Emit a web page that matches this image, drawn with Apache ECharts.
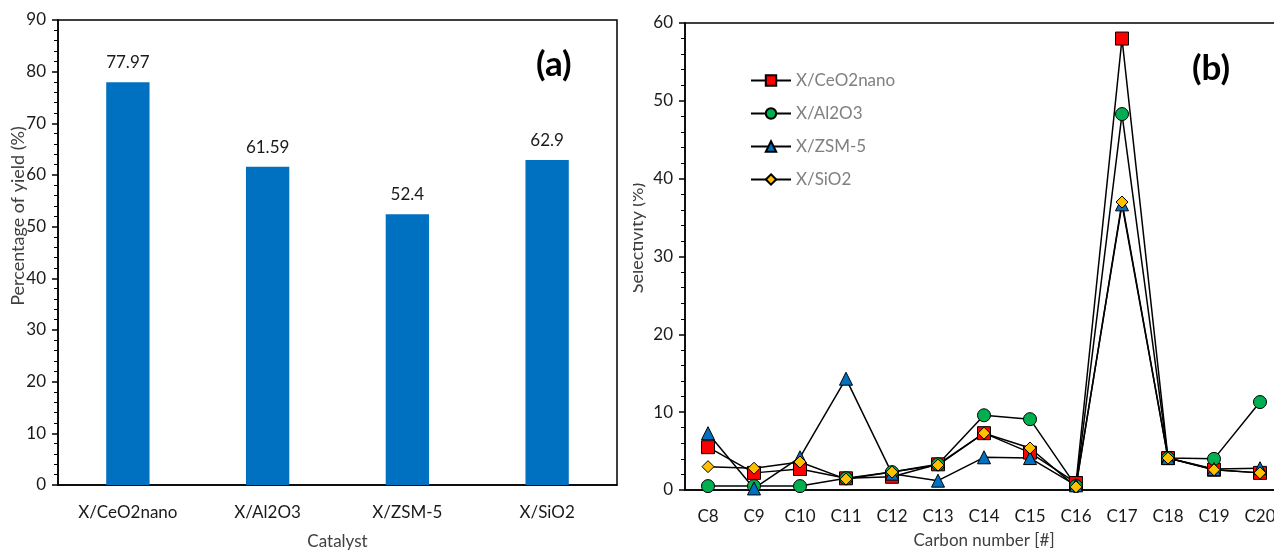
<!DOCTYPE html>
<html>
<head>
<meta charset="utf-8">
<script src="https://cdn.jsdelivr.net/npm/echarts@6/dist/echarts.min.js"></script>
<style>
  html, body { margin: 0; padding: 0; background: #fff; }
  #main { width: 1274px; height: 552px; }
</style>
</head>
<body>
<div id="main"></div>
<script>
// panel (a)
var catalysts = ['X/CeO2nano', 'X/Al2O3', 'X/ZSM-5', 'X/SiO2'];
var yieldValues = [77.97, 61.59, 52.4, 62.9];

// panel (b)
var carbons = ['C8', 'C9', 'C10', 'C11', 'C12', 'C13', 'C14', 'C15', 'C16', 'C17', 'C18', 'C19', 'C20'];
var ceo2nano = [5.5, 2.2, 2.7, 1.5, 1.7, 3.3, 7.3, 4.8, 0.9, 58.0, 4.1, 2.6, 2.2];
var al2o3 = [0.5, 0.5, 0.5, 1.5, 2.3, 3.3, 9.6, 9.1, 0.5, 48.3, 4.1, 4.0, 11.3];
var zsm5 = [7.3, 0.2, 4.2, 14.3, 2.1, 1.2, 4.2, 4.1, 0.6, 36.7, 4.1, 2.7, 2.8];
var sio2 = [3.0, 2.8, 3.6, 1.4, 2.3, 3.2, 7.3, 5.4, 0.4, 37.0, 4.1, 2.6, 2.2];

var font = 'Lato';
var labelColor = '#1a1a1a';
var nameColor = '#404040';
var axisLine = { lineStyle: { color: '#000', width: 1.5 } };

var chart = echarts.init(document.getElementById('main'));

function lineSeries(name, data, symbol, size, color) {
  return {
    name: name,
    type: 'line',
    xAxisIndex: 2,
    yAxisIndex: 1,
    data: data,
    symbol: symbol,
    symbolSize: size,
    lineStyle: { color: '#000', width: 1.5 },
    itemStyle: { color: color, borderColor: '#000', borderWidth: 1 },
    emphasis: { disabled: true }
  };
}

var option = {
  animation: false,
  textStyle: { fontFamily: font },
  grid: [
    { left: 58, right: 657, top: 20, bottom: 67, outerBoundsMode: 'none', show: true, borderColor: '#000', borderWidth: 1.5 },
    // the (b) frame runs past the right edge of the picture
    { left: 685, width: 598, top: 23, bottom: 62, outerBoundsMode: 'none', show: true, borderColor: '#000', borderWidth: 1.5 }
  ],
  legend: {
    orient: 'vertical',
    left: 750,
    top: 72,
    padding: 0,
    itemWidth: 40,
    itemHeight: 13,
    itemGap: 16,
    textStyle: { fontFamily: font, fontSize: 17, color: '#808080' },
    data: ['X/CeO2nano', 'X/Al2O3', 'X/ZSM-5', 'X/SiO2']
  },
  xAxis: [
    {
      gridIndex: 0, type: 'category', data: catalysts,
      axisLine: axisLine,
      axisTick: { inside: true, length: 6, lineStyle: { color: '#000', width: 1.5 } },
      axisLabel: { fontFamily: font, fontSize: 17, color: labelColor, margin: 19 },
      name: 'Catalyst', nameLocation: 'middle', nameGap: 48,
      nameTextStyle: { fontFamily: font, fontSize: 17, color: nameColor }
    },
    {
      gridIndex: 0, type: 'category', data: catalysts,
      axisLine: { show: false },
      axisTick: { alignWithLabel: true, length: 6, lineStyle: { color: '#000', width: 1.5 } },
      axisLabel: { show: false }
    },
    {
      gridIndex: 1, type: 'category', data: carbons,
      axisLine: axisLine,
      axisTick: { inside: true, length: 6, lineStyle: { color: '#000', width: 1.5 } },
      axisLabel: { fontFamily: font, fontSize: 17, color: labelColor, margin: 18 },
      name: 'Carbon number [#]', nameLocation: 'middle', nameGap: 42,
      nameTextStyle: { fontFamily: font, fontSize: 17, color: nameColor }
    },
    {
      gridIndex: 1, type: 'category', data: carbons,
      axisLine: { show: false },
      axisTick: { alignWithLabel: true, length: 6, lineStyle: { color: '#000', width: 1.5 } },
      axisLabel: { show: false }
    }
  ],
  yAxis: [
    {
      gridIndex: 0, type: 'value', min: 0, max: 90, interval: 10,
      axisLine: { show: true, lineStyle: { color: '#000', width: 1.5 } },
      axisTick: { show: true, length: 6, lineStyle: { color: '#000', width: 1.5 } },
      minorTick: { show: true, splitNumber: 5, length: 4, lineStyle: { color: '#000', width: 1 } },
      splitLine: { show: false },
      axisLabel: { fontFamily: font, fontSize: 17, color: labelColor, margin: 12 }
    },
    {
      gridIndex: 1, type: 'value', min: 0, max: 60, interval: 10,
      axisLine: { show: true, lineStyle: { color: '#000', width: 1.5 } },
      axisTick: { show: true, length: 6, lineStyle: { color: '#000', width: 1.5 } },
      minorTick: { show: true, splitNumber: 5, length: 4, lineStyle: { color: '#000', width: 1 } },
      splitLine: { show: false },
      axisLabel: { fontFamily: font, fontSize: 17, color: labelColor, margin: 12 }
    }
  ],
  series: [
    {
      type: 'bar',
      xAxisIndex: 0,
      yAxisIndex: 0,
      data: yieldValues,
      barWidth: '31%',
      itemStyle: { color: '#0070C0' },
      label: {
        show: true, position: 'top', distance: 11,
        fontFamily: font, fontSize: 17, color: labelColor
      },
      emphasis: { disabled: true }
    },
    lineSeries('X/CeO2nano', ceo2nano, 'rect', 13, '#FF0000'),
    lineSeries('X/Al2O3', al2o3, 'circle', 13, '#00B050'),
    lineSeries('X/ZSM-5', zsm5, 'triangle', 13, '#0070C0'),
    lineSeries('X/SiO2', sio2, 'diamond', 12, '#FFC000')
  ],
  graphic: [
    // y axis titles sit off-centre in the reference, so they are placed by hand
    {
      type: 'text', x: 18, y: 216, rotation: Math.PI / 2, z: 50,
      style: { text: 'Percentage of yield (%)', fontFamily: font, fontSize: 18, fill: nameColor, align: 'center', verticalAlign: 'middle' }
    },
    {
      type: 'text', x: 637, y: 238, rotation: Math.PI / 2, z: 50,
      style: { text: 'Selectivity (%)', fontFamily: font, fontSize: 18, fill: nameColor, align: 'center', verticalAlign: 'middle' }
    },
    // the reference crops the left half of the (b) axis title
    { type: 'rect', shape: { x: 620, y: 150, width: 13, height: 200 }, style: { fill: '#fff' }, z: 100 },
    {
      type: 'text', left: 536, top: 47, z: 101,
      style: { text: '(a)', fontFamily: font, fontSize: 35, fontWeight: 'bold', fill: '#000' }
    },
    {
      type: 'text', left: 1192, top: 51, z: 101,
      style: { text: '(b)', fontFamily: font, fontSize: 35, fontWeight: 'bold', fill: '#000' }
    }
  ]
};

chart.setOption(option);
</script>
</body>
</html>
